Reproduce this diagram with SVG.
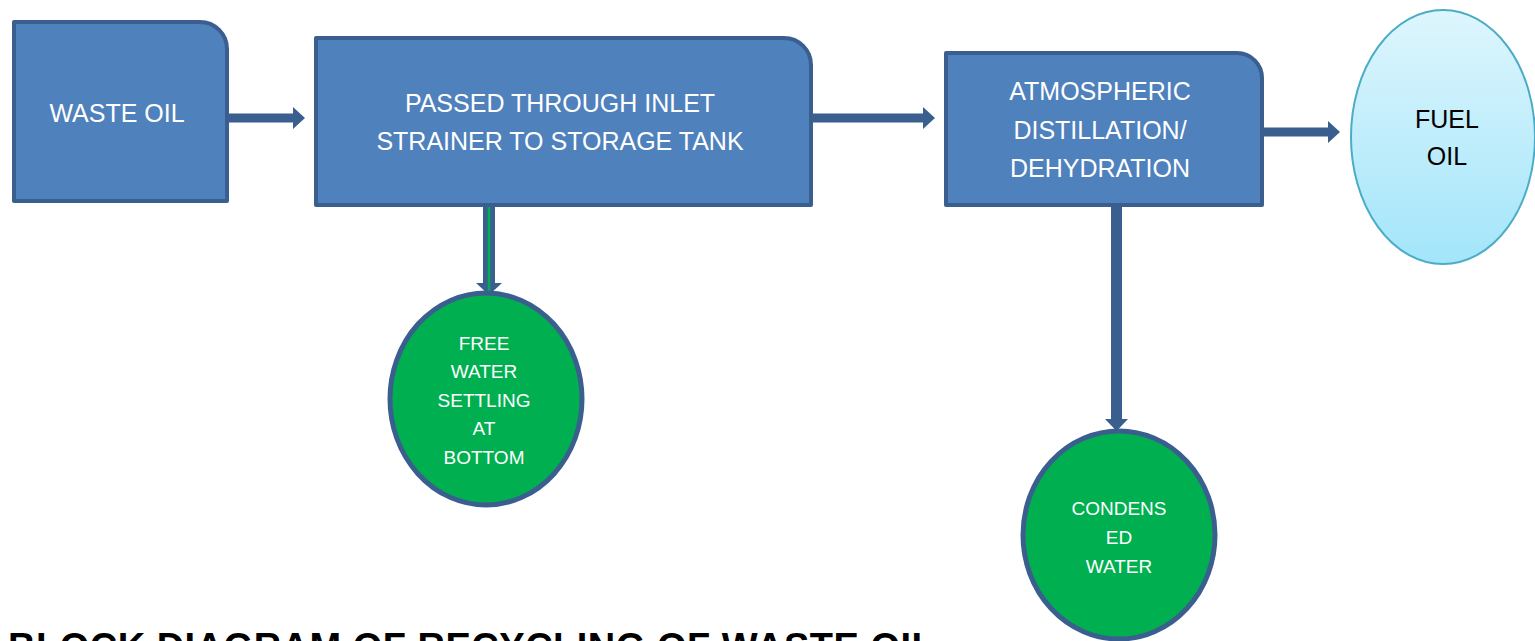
<svg xmlns="http://www.w3.org/2000/svg" width="1535" height="641" viewBox="0 0 1535 641">
<defs>
<linearGradient id="fuelGrad" x1="0" y1="0" x2="0" y2="1">
<stop offset="0" stop-color="#DEF6FD"/>
<stop offset="1" stop-color="#A3E5FA"/>
</linearGradient>
<style>
.box{fill:#4F81BD;stroke:#3A5F8F;stroke-width:4;stroke-linejoin:round}
.green{fill:#00B050;stroke:#3A5F8F;stroke-width:5}
.arrow{fill:#3A5F8F}
.wt{fill:#FFFFFF;font-family:"Liberation Sans",Arial,sans-serif;text-anchor:middle}
.big{font-size:25px}
.small{font-size:19px}
.bt{fill:#000000;font-family:"Liberation Sans",Arial,sans-serif;text-anchor:middle;font-size:25px}
.title{fill:#000000;font-family:"Liberation Sans",Arial,sans-serif;font-weight:bold;font-size:38px;letter-spacing:0.5px}
</style>
</defs>
<rect width="1535" height="641" fill="#FFFFFF"/>
<g id="connectors">
<path class="arrow" d="M227,113.5 H293 V107 L305,118 L293,129 V122.5 H227 Z"/>
<path class="arrow" d="M811,113.5 H923 V107 L935,118 L923,129 V122.5 H811 Z"/>
<path class="arrow" d="M1262,127.5 H1328 V121 L1340,132 L1328,143 V136.5 H1262 Z"/>
<path class="arrow" d="M483,205 V283 H476 L489,295 L502,283 H495 V205 Z"/>
<line x1="489" y1="206" x2="489" y2="292" stroke="#00B050" stroke-width="2.5"/>
<path class="arrow" d="M1111,205 V419 H1105 L1116.5,431 L1128,419 H1122 V205 Z"/>
</g>
<g id="waste-oil">
<path class="box" d="M14,22 H200 A27,27 0 0 1 227,49 V201 H14 Z"/>
<text class="wt big" x="117" y="122">WASTE OIL</text>
</g>
<g id="storage">
<path class="box" d="M316,38 H784 A27,27 0 0 1 811,65 V205 H316 Z"/>
<text class="wt big" x="560" y="112">PASSED THROUGH INLET</text>
<text class="wt big" x="560" y="150">STRAINER TO STORAGE TANK</text>
</g>
<g id="distillation">
<path class="box" d="M946,53 H1237 A25,25 0 0 1 1262,78 V205 H946 Z"/>
<text class="wt big" x="1100" y="100">ATMOSPHERIC</text>
<text class="wt big" x="1100" y="139">DISTILLATION/</text>
<text class="wt big" x="1100" y="177">DEHYDRATION</text>
</g>
<g id="fuel-oil">
<ellipse cx="1443" cy="137" rx="92" ry="127" fill="url(#fuelGrad)" stroke="#4BACC6" stroke-width="2"/>
<text class="bt" x="1447" y="128">FUEL</text>
<text class="bt" x="1447" y="165">OIL</text>
</g>
<g id="free-water">
<ellipse class="green" cx="486" cy="399" rx="96" ry="106"/>
<text class="wt small" x="484" y="350">FREE</text>
<text class="wt small" x="484" y="378">WATER</text>
<text class="wt small" x="484" y="407">SETTLING</text>
<text class="wt small" x="484" y="435">AT</text>
<text class="wt small" x="484" y="464">BOTTOM</text>
</g>
<g id="condensed-water">
<ellipse class="green" cx="1119" cy="535" rx="96" ry="104"/>
<text class="wt small" x="1119" y="515">CONDENS</text>
<text class="wt small" x="1119" y="544">ED</text>
<text class="wt small" x="1119" y="573">WATER</text>
</g>
<text class="title" x="8" y="660">BLOCK DIAGRAM OF RECYCLING OF WASTE OIL</text>
</svg>
